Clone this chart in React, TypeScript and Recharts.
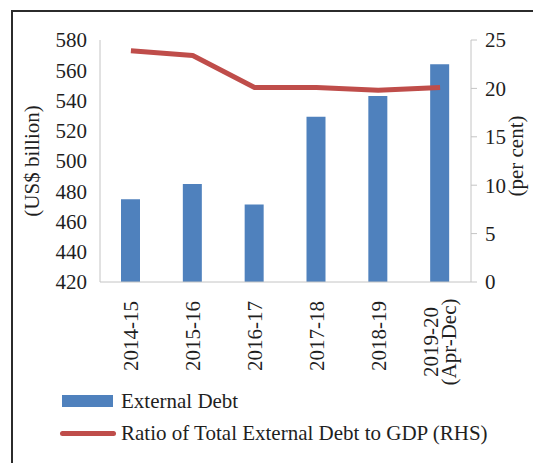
import React from 'react';
import { ComposedChart, Bar, Line, XAxis, YAxis } from 'recharts';

const categories = ['2014-15', '2015-16', '2016-17', '2017-18', '2018-19', '2019-20\n(Apr-Dec)'];
const externalDebt = [474.7, 484.8, 471.3, 529.3, 543.0, 563.9];
const debtToGdp = [23.9, 23.4, 20.1, 20.1, 19.8, 20.1];
const leftTicks = [420, 440, 460, 480, 500, 520, 540, 560, 580];
const rightTicks = [0, 5, 10, 15, 20, 25];

const data = categories.map((c, i) => ({ name: c, debt: externalDebt[i], ratio: debtToGdp[i] }));

const FONT = 'Liberation Serif, Times New Roman, serif';
const FS = 21;
const TEXT = '#1f1f1f';
const AXIS = '#c4c4c4';
const BLUE = '#4F81BD';
const RED = '#BF4D4A';

const XTick = (props: any) => {
  const { x, y, payload } = props;
  const lines = String(payload.value).split('\n');
  if (lines.length === 1) {
    return (
      <text
        x={x}
        y={y + 11}
        transform={`rotate(-90, ${x}, ${y + 11})`}
        textAnchor="end"
        dy="0.35em"
        fill={TEXT}
        fontSize={FS}
        fontFamily={FONT}
      >
        {lines[0]}
      </text>
    );
  }
  const cy = y + 52;
  const gap = 18;
  return (
    <g>
      {lines.map((l, i) => {
        const lx = x + (i - (lines.length - 1) / 2) * gap;
        return (
          <text
            key={i}
            x={lx}
            y={cy}
            transform={`rotate(-90, ${lx}, ${cy})`}
            textAnchor="middle"
            dy="0.35em"
            fill={TEXT}
            fontSize={FS}
            fontFamily={FONT}
          >
            {l}
          </text>
        );
      })}
    </g>
  );
};

export default function App() {
  return (
    <div style={{ position: 'absolute', left: 0, top: 0, width: 533, height: 463, overflow: 'hidden', background: '#fff' }}>
      <div
        style={{
          position: 'absolute',
          left: 11,
          top: 10,
          width: 700,
          height: 700,
          borderLeft: '2px solid #2b2b2b',
          borderTop: '2px solid #2b2b2b',
        }}
      />
      <div style={{ position: 'absolute', left: 0, top: 0 }}>
        <ComposedChart width={533} height={463} data={data} margin={{ top: 40, right: 0, bottom: 0, left: 0 }} barSize={19}>
          <XAxis
            dataKey="name"
            interval={0}
            tickLine={false}
            axisLine={{ stroke: AXIS }}
            height={181}
            tick={<XTick />}
          />
          <YAxis
            yAxisId="left"
            orientation="left"
            domain={[420, 580]}
            ticks={leftTicks}
            width={100}
            tickLine={false}
            tickSize={0}
            tickMargin={13}
            axisLine={{ stroke: AXIS }}
            tick={{ fill: TEXT, fontSize: FS, fontFamily: FONT }}
            label={{ value: '(US$ billion)', angle: -90, position: 'center', dx: -18, style: { fill: TEXT, fontSize: FS, fontFamily: FONT } }}
          />
          <YAxis
            yAxisId="right"
            orientation="right"
            domain={[0, 25]}
            ticks={rightTicks}
            width={62}
            tickSize={6}
            tickMargin={8}
            tickLine={{ stroke: AXIS }}
            axisLine={{ stroke: AXIS }}
            tick={{ fill: TEXT, fontSize: FS, fontFamily: FONT }}
            label={{ value: '(per cent)', angle: -90, position: 'center', dx: 14, dy: -5, style: { fill: TEXT, fontSize: FS, fontFamily: FONT } }}
          />
          <Bar yAxisId="left" dataKey="debt" fill={BLUE} isAnimationActive={false} />
          <Line
            yAxisId="right"
            dataKey="ratio"
            stroke={RED}
            strokeWidth={5}
            dot={false}
            activeDot={false}
            strokeLinejoin="round"
            isAnimationActive={false}
          />
        </ComposedChart>
      </div>
      <div style={{ position: 'absolute', left: 60, top: 388, fontFamily: FONT, fontSize: FS, color: TEXT, lineHeight: 1 }}>
        <div style={{ display: 'flex', alignItems: 'center', height: 26 }}>
          <div style={{ width: 51, height: 12, background: BLUE, marginLeft: 2, marginRight: 8 }} />
          <span>External Debt</span>
        </div>
        <div style={{ display: 'flex', alignItems: 'center', height: 38 }}>
          <div style={{ width: 56, height: 5, background: RED, borderRadius: 2.5, marginRight: 5 }} />
          <span>Ratio of Total External Debt to GDP (RHS)</span>
        </div>
      </div>
    </div>
  );
}
